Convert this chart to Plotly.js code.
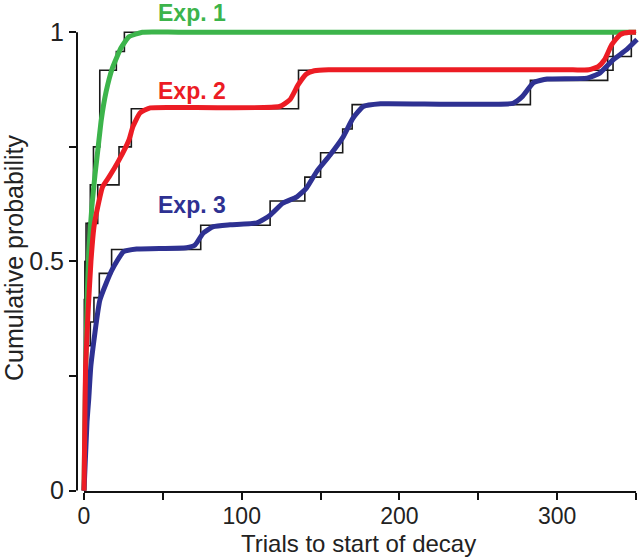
<!DOCTYPE html>
<html>
<head>
<meta charset="utf-8">
<script src="https://cdn.plot.ly/plotly-3.0.1.min.js"></script>
<style>
  html, body { margin: 0; padding: 0; background: #fff; }
  #chart { width: 640px; height: 558px; }
</style>
</head>
<body>
<div id="chart"></div>
<script>
const exp1StepX = [0, 0.2, 0.6, 2.5, 4.0, 6.0, 10.0, 20.5, 25.6, 350];
const exp1StepY = [0, 0.417, 0.5, 0.583, 0.667, 0.75, 0.917, 0.958, 1.0, 1.0];

const exp2StepX = [0, 0.3, 0.8, 1.3, 8.7, 22.2, 30, 136, 335.4, 350];
const exp2StepY = [0, 0.25, 0.5, 0.583, 0.667, 0.75, 0.833, 0.917, 1.0, 1.0];

const exp3StepX = [0, 0.3, 0.8, 2, 4, 6.3, 9.7, 17.5, 74, 118, 140, 150, 164, 170, 283, 332, 347, 350];
const exp3StepY = [0, 0.105, 0.263, 0.316, 0.368, 0.421, 0.474, 0.526, 0.579, 0.632, 0.684, 0.737, 0.789, 0.842, 0.895, 0.947, 1.0, 1.0];

// Fitted (smooth) curves
const exp1FitX = [0, 1, 2, 3, 5, 7, 9, 11, 14, 18, 23.5, 28.5, 37, 60, 350];
const exp1FitY = [0, 0.25, 0.42, 0.52, 0.62, 0.69, 0.75, 0.81, 0.87, 0.922, 0.966, 0.99, 1.0, 1.0, 1.0];

const exp2FitX = [0, 0.5, 1.0, 2.6, 4.4, 6.3, 8.7, 11.8, 16, 22, 28.5, 31, 35.5, 42, 60, 124, 130.6, 135.7, 141, 146, 155, 200, 310, 320, 326, 330, 334.6, 340, 346, 350];
const exp2FitY = [0, 0.14, 0.27, 0.39, 0.5, 0.575, 0.619, 0.663, 0.685, 0.72, 0.765, 0.794, 0.824, 0.835, 0.836, 0.838, 0.853, 0.885, 0.909, 0.916, 0.918, 0.918, 0.918, 0.918, 0.925, 0.94, 0.973, 0.995, 1.0, 1.0];

const exp3FitX = [0, 1.9, 3, 4.4, 10.1, 17.5, 25, 33.4, 65, 70.4, 75.6, 82, 92.6, 109.5, 118, 126, 135, 141, 147.5, 156, 164, 170.6, 177, 188, 272, 278, 285, 293.6, 319, 327, 335.5, 344, 350.6];
const exp3FitY = [0, 0.15, 0.2, 0.274, 0.416, 0.48, 0.521, 0.527, 0.53, 0.536, 0.562, 0.576, 0.58, 0.584, 0.601, 0.627, 0.641, 0.66, 0.696, 0.732, 0.77, 0.813, 0.838, 0.844, 0.845, 0.86, 0.89, 0.898, 0.9, 0.911, 0.94, 0.962, 0.984];

const seriesNames = ['Exp. 1', 'Exp. 2', 'Exp. 3'];
const seriesColors = ['#3cb44b', '#ec1c24', '#2e3192'];
// label centres in paper coordinates
const labelX = [0.205, 0.205, 0.205];
const labelY = [1.0235, 0.857, 0.613];

const FONT = 'Liberation Sans, Arial, sans-serif';

function stepTrace(x, y) {
    return {
        x: x, y: y, type: 'scatter', mode: 'lines',
        line: { color: '#1a1a1a', width: 1.6, shape: 'hv' },
        hoverinfo: 'skip', showlegend: false
    };
}

function fitTrace(x, y, color) {
    return {
        x: x, y: y, type: 'scatter', mode: 'lines',
        line: { color: color, width: 5, shape: 'spline', smoothing: 0.45 },
        showlegend: false
    };
}

const traces = [
    stepTrace(exp1StepX, exp1StepY),
    stepTrace(exp2StepX, exp2StepY),
    stepTrace(exp3StepX, exp3StepY),
    fitTrace(exp1FitX, exp1FitY, seriesColors[0]),
    fitTrace(exp3FitX, exp3FitY, seriesColors[2]),
    fitTrace(exp2FitX, exp2FitY, seriesColors[1])
];

const annotations = seriesNames.map((name, i) => ({
    x: labelX[i], y: labelY[i], xref: 'paper', yref: 'paper',
    xanchor: 'center', yanchor: 'middle',
    text: '<b>' + name + '</b>', showarrow: false,
    font: { family: FONT, size: 23, color: seriesColors[i] }
}));

// x-axis title sits tight under the tick labels, as in the original
annotations.push({
    x: 0.5, y: -0.143, xref: 'paper', yref: 'paper',
    xanchor: 'center', yanchor: 'bottom', showarrow: false,
    text: 'Trials to start of decay',
    font: { family: FONT, size: 24, color: '#222' }
});

const layout = {
    width: 640,
    height: 558,
    margin: { l: 77, r: 0, t: 24, b: 66 },
    paper_bgcolor: '#ffffff',
    plot_bgcolor: '#ffffff',
    showlegend: false,
    font: { family: FONT, size: 25, color: '#222' },
    xaxis: {
        range: [-4.44, 352.5],
        showgrid: false, zeroline: false, showline: false,
        tickvals: [0, 100, 200, 300],
        ticks: 'outside', ticklen: 7, tickwidth: 2, tickcolor: '#111',
        ticklabelstandoff: -4,
        minor: { tickvals: [50, 150, 250, 350], ticks: 'outside', ticklen: 7, tickwidth: 2, tickcolor: '#111' },
        tickfont: { family: FONT, size: 23, color: '#222' }
    },
    yaxis: {
        range: [-0.003, 1.018],
        showgrid: false, zeroline: false, showline: false,
        tickvals: [0, 0.5, 1],
        ticktext: ['0', '0.5', '1'],
        ticks: 'outside', ticklen: 7, tickwidth: 2, tickcolor: '#111',
        minor: { tickvals: [0.25, 0.75], ticks: 'outside', ticklen: 7, tickwidth: 2, tickcolor: '#111' },
        tickfont: { family: FONT, size: 25, color: '#222' },
        title: { text: 'Cumulative probability', font: { family: FONT, size: 25, color: '#222' }, standoff: 2 }
    },
    shapes: [
        // axis spines, offset like the original figure
        { type: 'line', xref: 'x', yref: 'paper', x0: 0, x1: 350, y0: 0, y1: 0, line: { color: '#111', width: 2 } },
        { type: 'line', xref: 'paper', yref: 'y', x0: 0, x1: 0, y0: 0, y1: 1, line: { color: '#111', width: 2 } }
    ],
    annotations: annotations
};

Plotly.newPlot('chart', traces, layout, { displayModeBar: false, staticPlot: true });
</script>
</body>
</html>
